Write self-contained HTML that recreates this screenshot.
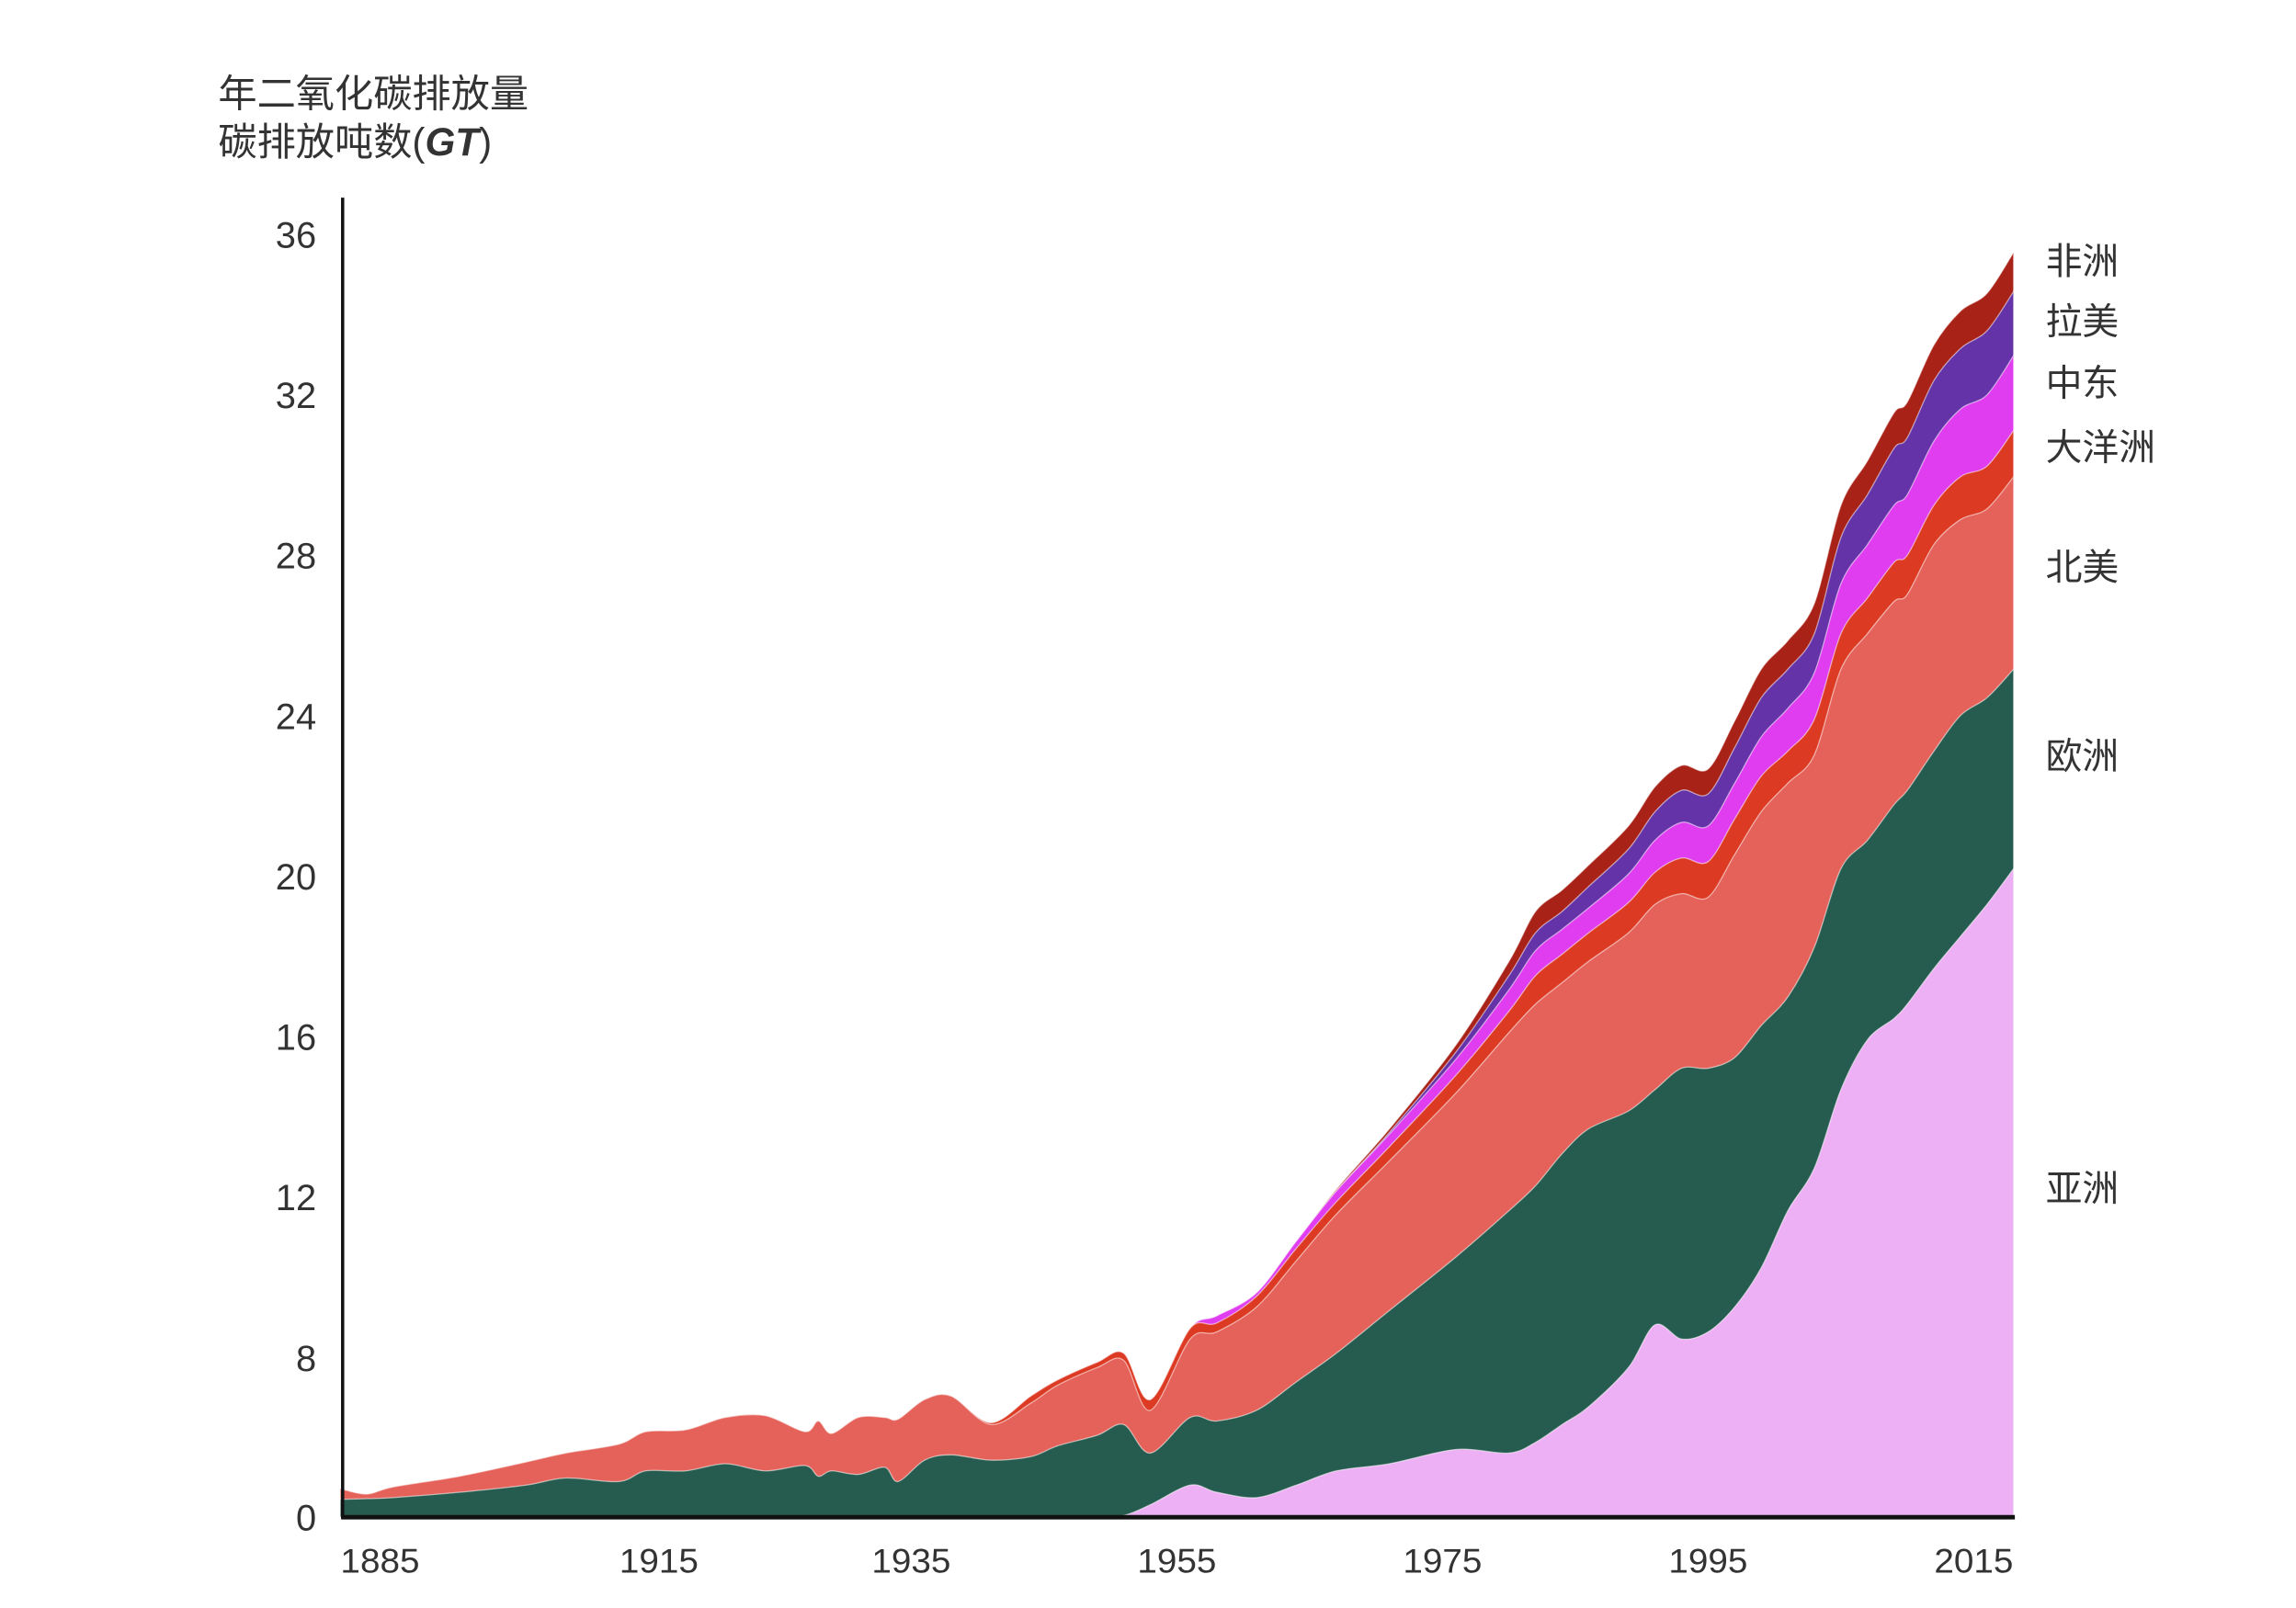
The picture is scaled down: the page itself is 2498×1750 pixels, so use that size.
<!DOCTYPE html>
<html><head><meta charset="utf-8"><style>
html,body{margin:0;padding:0;background:#fff;}
svg{display:block;}
text{font-family:"Liberation Sans","Noto Sans CJK SC",sans-serif;fill:#333;}
</style></head><body>
<svg id="chart" width="2498" height="1750" viewBox="0 0 1568 1098" preserveAspectRatio="none" xmlns="http://www.w3.org/2000/svg">
<g>
<text x="149" y="73" font-size="26.5">年二氧化碳排放量</text>
<text x="149" y="106" font-size="26.5">碳排放吨数(<tspan font-weight="bold" font-style="italic">GT</tspan>)</text>
</g>
<g id="areas"></g>
<g id="yticks"></g>
<g id="xticks"></g>
<line x1="234" y1="135" x2="234" y2="1037" stroke="#111" stroke-width="2.2"/>
<line x1="233" y1="1036" x2="1376" y2="1036" stroke="#111" stroke-width="3"/>
<g id="labels"></g>
</svg>
<script>
const years=[1891,1893,1895,1900,1905,1908,1912,1914,1917,1920,1923,1926,1927,1928,1930,1932,1933,1935,1937,1940,1943,1945,1948,1950,1952,1955,1957,1960,1963,1966,1970,1975,1979,1981,1983,1985,1988,1990,1992,1994,1996,1998,2000,2002,2004,2006,2008,2009,2011,2013,2015,2017];
const asia=[0,0,0,0,0,0,0,0,0,0,0,0,0,0,0,0,0,0,0,0,0,0,0.02,0.05,0.35,0.9,0.7,0.55,0.9,1.3,1.5,1.9,1.8,2.1,2.6,3.1,4.2,5.4,5.0,5.2,5.9,7.0,8.6,9.8,12.0,13.4,14.0,14.4,15.4,16.3,17.2,18.2];
const europe=[0.5,0.52,0.55,0.7,0.9,1.1,1.0,1.3,1.3,1.5,1.3,1.45,1.15,1.3,1.2,1.4,1.0,1.6,1.75,1.6,1.7,2.0,2.28,2.55,1.45,1.9,2.0,2.45,2.9,3.3,4.3,5.4,6.8,7.2,7.6,7.8,7.2,6.6,7.6,7.4,7.0,6.8,6.0,6.2,6.2,5.6,6.0,6.0,6.1,6.2,5.8,5.6];
const northAmerica=[0.3,0.13,0.3,0.45,0.65,0.7,1.05,1.1,1.15,1.3,1.55,0.95,1.55,1.05,1.6,1.4,1.75,1.7,1.65,1.0,1.5,1.7,1.9,1.8,1.2,2.2,2.5,2.9,3.4,3.9,4.2,4.6,5.0,5.1,4.8,4.7,5.0,5.2,4.9,4.8,5.7,6.0,6.0,5.4,5.6,5.8,5.7,5.5,5.8,5.5,5.3,5.4];
const oceania=[0,0,0,0,0,0,0,0,0,0,0,0,0,0,0,0,0,0,0,0.05,0.2,0.15,0.15,0.2,0.3,0.3,0.25,0.3,0.35,0.35,0.4,0.5,0.6,0.8,0.8,0.8,0.85,0.9,1.0,1.0,1.0,1.0,0.9,1.0,1.0,1.0,1.1,1.1,1.1,1.2,1.2,1.3];
const middleEast=[0,0,0,0,0,0,0,0,0,0,0,0,0,0,0,0,0,0,0,0,0,0,0,0,0,0,0.2,0.1,0.2,0.3,0.35,0.45,0.6,0.7,0.7,0.7,0.8,0.9,1.0,1.0,1.0,1.1,1.2,1.3,1.4,1.5,1.6,1.7,1.8,1.9,2.0,2.1];
const latinAmerica=[0,0,0,0,0,0,0,0,0,0,0,0,0,0,0,0,0,0,0,0,0,0,0,0,0,0,0,0,0,0,0.05,0.2,0.4,0.5,0.5,0.6,0.7,0.8,0.9,0.9,1.0,1.1,1.1,1.1,1.3,1.4,1.6,1.6,1.7,1.7,1.8,1.8];
const africa=[0,0,0,0,0,0,0,0,0,0,0,0,0,0,0,0,0,0,0,0,0,0,0,0,0,0,0,0,0,0.05,0.1,0.2,0.4,0.6,0.6,0.6,0.65,0.7,0.7,0.7,0.75,0.8,0.8,0.85,0.9,0.95,1.0,1.0,1.0,1.05,1.05,1.1];
const seriesNames=["亚洲","欧洲","北美","大洋洲","中东","拉美","非洲"];
const yTickValues=[0,8,12,16,20,24,28,32,36];
const xTickYears=[1894,1915,1934,1954,1974,1994,2014];
const xTickLabels=["1885","1915","1935","1955","1975","1995","2015"];

const NS="http://www.w3.org/2000/svg";
const X=y=>450+(y-1915)*9.07;
const Y=v=>1036-v*24.33;
// tick label scale as printed on the reference axis (0–8 compressed)
const yTickPos=v=>v<=8?1036-v*109/8:927-(v-8)*27.39;
const series=[asia,europe,northAmerica,oceania,middleEast,latinAmerica,africa];
const colors=["#eeb0f5","#265c4f","#e5625a","#dc3a22","#e03cf0","#6433a8","#a82218"];
const labelY=[811,516,387,305,261,219,178];
const keys=["asia","europe","north-america","oceania","middle-east","latin-america","africa"];
const cum=[];let run=years.map(()=>0);
series.forEach(s=>{run=run.map((r,i)=>r+s[i]);cum.push(run.slice());});
function smooth(pts){
  let d="M"+pts[0][0]+","+pts[0][1];
  for(let i=0;i<pts.length-1;i++){
    const p0=pts[Math.max(0,i-1)],p1=pts[i],p2=pts[i+1],p3=pts[Math.min(pts.length-1,i+2)];
    const t=0.16;
    const c1=[p1[0]+(p2[0]-p0[0])*t,p1[1]+(p2[1]-p0[1])*t];
    const c2=[p2[0]-(p3[0]-p1[0])*t,p2[1]-(p3[1]-p1[1])*t];
    d+="C"+c1[0].toFixed(2)+","+c1[1].toFixed(2)+" "+c2[0].toFixed(2)+","+c2[1].toFixed(2)+" "+p2[0].toFixed(2)+","+p2[1].toFixed(2);
  }
  return d;
}
const areas=document.getElementById("areas");
for(let k=series.length-1;k>=0;k--){
  const pts=years.map((yr,i)=>[X(yr),Y(cum[k][i])]);
  const d=smooth(pts)+"L"+X(years[years.length-1])+","+Y(0)+"L"+X(years[0])+","+Y(0)+"Z";
  const p=document.createElementNS(NS,"path");
  p.setAttribute("d",d);p.setAttribute("fill",colors[k]);
  p.setAttribute("stroke","rgba(255,255,255,0.55)");p.setAttribute("stroke-width","0.8");
  
  
  areas.appendChild(p);
}
const yt=document.getElementById("yticks");
yTickValues.forEach(v=>{
  const t=document.createElementNS(NS,"text");
  t.setAttribute("x",216);t.setAttribute("y",yTickPos(v)+9);t.setAttribute("font-size","25");t.setAttribute("text-anchor","end");
  t.textContent=v;
  
  
  yt.appendChild(t);
});
const xt=document.getElementById("xticks");
xTickYears.forEach((yr,i)=>{
  const t=document.createElementNS(NS,"text");
  t.setAttribute("x",X(yr));t.setAttribute("y",1074);t.setAttribute("font-size","23");t.setAttribute("text-anchor","middle");
  t.setAttribute("textLength","54");t.setAttribute("lengthAdjust","spacingAndGlyphs");
  t.textContent=xTickLabels[i];
  
  
  xt.appendChild(t);
});
const lb=document.getElementById("labels");
seriesNames.forEach((n,k)=>{
  const t=document.createElementNS(NS,"text");
  t.setAttribute("x",1397);t.setAttribute("y",labelY[k]+9);t.setAttribute("font-size","25");
  t.textContent=n;
  
  
  lb.appendChild(t);
});
</script>
</body></html>
